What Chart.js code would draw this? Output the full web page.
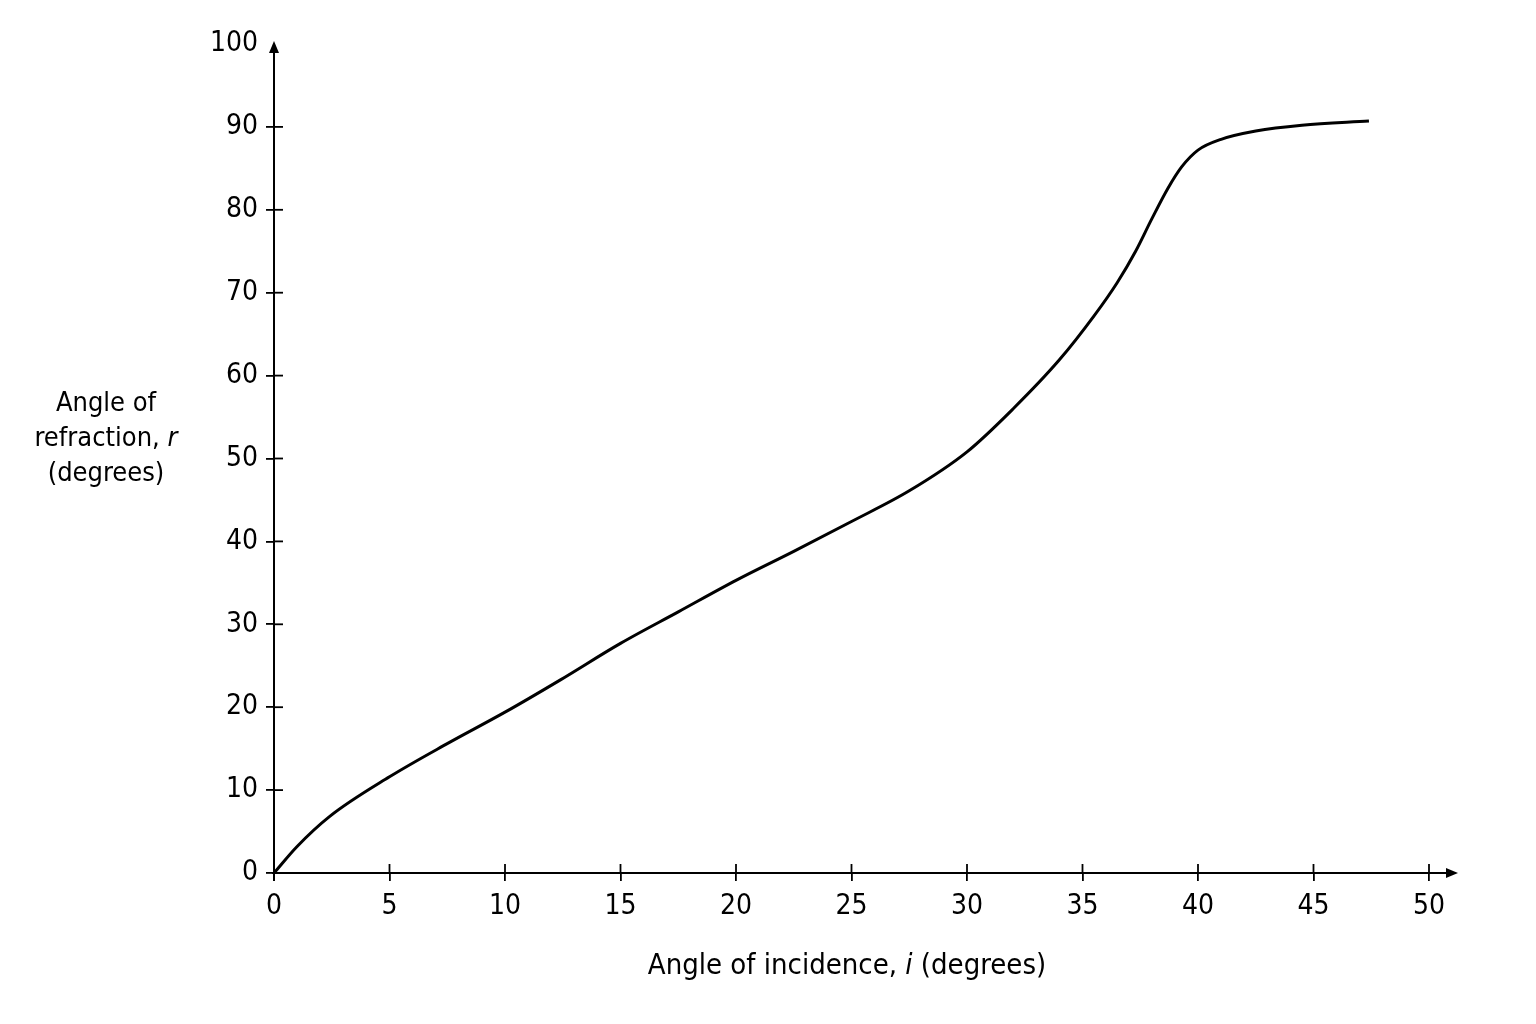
<!DOCTYPE html>
<html>
<head>
<meta charset="utf-8">
<script src="https://cdn.jsdelivr.net/npm/chart.js@4/dist/chart.umd.min.js"></script>
<style>
  html, body { margin: 0; padding: 0; background: #ffffff; }
  #wrap { width: 1536px; height: 1024px; }
</style>
</head>
<body>
<div id="wrap"><canvas id="c" width="1536" height="1024"></canvas></div>
<script>
// Angle of incidence i (degrees)
const incidence = [0, 1, 2.4, 5, 7.5, 10, 12.4, 15, 17.5, 20, 22.5, 25, 27.5, 30, 32, 34, 35.5, 36.5, 37.3, 38, 38.7, 39.3, 40.0, 41.0, 42.5, 44.5, 47.4];
// Angle of refraction r (degrees)
const refraction = [0, 3.2, 6.8, 11.6, 15.6, 19.4, 23.3, 27.7, 31.5, 35.3, 38.8, 42.4, 46.1, 50.8, 56.0, 61.9, 67.2, 71.2, 75.0, 78.9, 82.6, 85.2, 87.2, 88.5, 89.5, 90.2, 90.7];
const xTitle = ['Angle of incidence, ', 'i', ' (degrees)'];
const yTitleLines = [[['Angle of', false]], [['refraction, ', false], ['r', true]], [['(degrees)', false]]];

const FONT = "'Liberation Sans Narrow', 'Arial Narrow', 'DejaVu Sans Condensed', sans-serif";

const axesPlugin = {
  id: 'axesPlugin',
  afterDraw(chart) {
    const ctx = chart.ctx;
    const xs = chart.scales.x, ys = chart.scales.y;
    const x0 = xs.getPixelForValue(0);
    const y0 = ys.getPixelForValue(0);
    const yTop = ys.getPixelForValue(100);
    const xEnd = xs.getPixelForValue(50);
    ctx.save();
    ctx.strokeStyle = '#000';
    ctx.fillStyle = '#000';
    ctx.lineWidth = 2;
    // y axis
    ctx.beginPath();
    ctx.moveTo(x0, y0 + 8);
    ctx.lineTo(x0, yTop + 6);
    ctx.stroke();
    ctx.beginPath();
    ctx.moveTo(x0, yTop - 3);
    ctx.lineTo(x0 - 5, yTop + 9);
    ctx.lineTo(x0 + 5, yTop + 9);
    ctx.closePath();
    ctx.fill();
    // x axis
    const xTip = xEnd + 29;
    ctx.beginPath();
    ctx.moveTo(x0 - 2, y0);
    ctx.lineTo(xTip - 6, y0);
    ctx.stroke();
    ctx.beginPath();
    ctx.moveTo(xTip, y0);
    ctx.lineTo(xTip - 12, y0 - 5);
    ctx.lineTo(xTip - 12, y0 + 5);
    ctx.closePath();
    ctx.fill();
    // inner tick halves
    ctx.lineWidth = 1.8;
    xs.ticks.forEach((t, i) => {
      if (t.value === 0) return;
      const px = xs.getPixelForTick(i);
      ctx.beginPath(); ctx.moveTo(px, y0); ctx.lineTo(px, y0 - 9); ctx.stroke();
    });
    ys.ticks.forEach((t, i) => {
      if (t.value === 0 || t.value === 100) return;
      const py = ys.getPixelForTick(i);
      ctx.beginPath(); ctx.moveTo(x0, py); ctx.lineTo(x0 + 9, py); ctx.stroke();
    });
    // titles
    ctx.textBaseline = 'middle';
    ctx.textAlign = 'left';
    const drawMixed = (parts, cx, cy, size) => {
      const normal = size + 'px ' + FONT;
      const italic = 'italic ' + size + 'px ' + FONT;
      let total = 0;
      parts.forEach(p => { ctx.font = p[1] ? italic : normal; total += ctx.measureText(p[0]).width; });
      let x = cx - total / 2;
      parts.forEach(p => { ctx.font = p[1] ? italic : normal; ctx.fillText(p[0], x, cy); x += ctx.measureText(p[0]).width; });
    };
    drawMixed([[xTitle[0], false], [xTitle[1], true], [xTitle[2], false]], 847, 966, 29);
    const yLineY = [404, 439, 474];
    yTitleLines.forEach((parts, i) => drawMixed(parts, 106, yLineY[i], 27));
    ctx.restore();
  }
};

new Chart(document.getElementById('c'), {
  type: 'line',
  data: {
    datasets: [{
      data: incidence.map((x, i) => ({ x: x, y: refraction[i] })),
      borderColor: '#000',
      borderWidth: 3,
      pointRadius: 0,
      fill: false,
      cubicInterpolationMode: 'monotone'
    }]
  },
  options: {
    responsive: false,
    animation: false,
    devicePixelRatio: 1,
    layout: { padding: { left: 0, right: 107, top: 44, bottom: 0 } },
    plugins: { legend: { display: false }, tooltip: { enabled: false }, title: { display: false } },
    scales: {
      x: {
        type: 'linear', min: 0, max: 50,
        border: { display: false },
        grid: { drawOnChartArea: false, drawTicks: true, tickLength: 8, color: '#000', lineWidth: 1.8 },
        ticks: { stepSize: 5, color: '#000', padding: 9, font: { family: FONT, size: 28 }, maxRotation: 0 },
        afterFit(s) { s.height = 151; }
      },
      y: {
        type: 'linear', min: 0, max: 100,
        border: { display: false },
        grid: { drawOnChartArea: false, drawTicks: true, tickLength: 8, lineWidth: 1.8,
                color: c => (c.tick && c.tick.value === 100) ? 'rgba(0,0,0,0)' : '#000' },
        ticks: { stepSize: 10, color: '#000', padding: 8, font: { family: FONT, size: 28 } },
        afterFit(s) { s.width = 274; }
      }
    }
  },
  plugins: [axesPlugin]
});
</script>
</body>
</html>
